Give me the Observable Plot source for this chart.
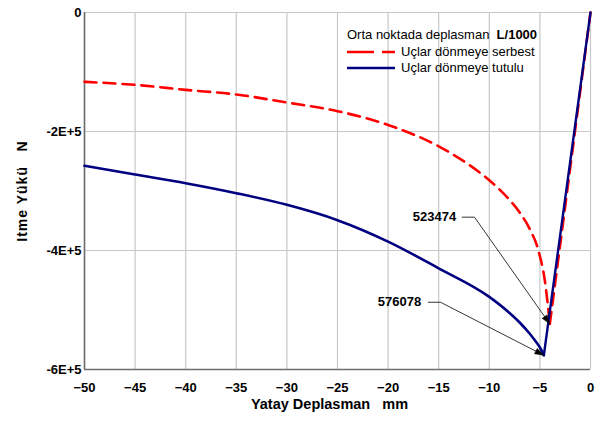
<!DOCTYPE html>
<html>
<head>
<meta charset="utf-8">
<script src="https://cdn.jsdelivr.net/npm/d3@7"></script>
<script src="https://cdn.jsdelivr.net/npm/@observablehq/plot@0.6"></script>
<style>
  html, body { margin: 0; padding: 0; background: #fff; }
  #wrap { position: relative; width: 599px; height: 421px; font-family: "Liberation Sans", Arial, sans-serif; }
  #legend { position: absolute; left: 347px; top: 27px; font-size: 13px; color: #000; line-height: 16.5px; }
  #legend .row { display: flex; align-items: center; height: 16.5px; white-space: pre; }
  #legend svg { margin-right: 6px; }
</style>
</head>
<body>
<div id="wrap"><div id="legend"></div></div>
<script>
// ---- data ----
const xTicks = [-50, -45, -40, -35, -30, -25, -20, -15, -10, -5, 0];
const yTicks = [0, -200000, -400000, -600000];
const yTickLabels = ["0", "-2E+5", "-4E+5", "-6E+5"];

// "Uçlar dönmeye serbest" (red dashed)
const redX = [-50, -45, -40, -35, -30, -25, -20, -15, -12, -10, -8, -7, -6, -5.1, -4.5, -4.02, 0];
const redY = [-116500, -121600, -130000, -137800, -151300, -165800, -189000, -225000, -256000, -282000, -315000, -336000, -364000, -403000, -452000, -523474, 0];

// "Uçlar dönmeye tutulu" (blue solid)
const blueX = [-50, -45, -40, -35, -30, -25, -20, -15, -10, -8, -7, -6, -5.5, -5, -4.61, 0];
const blueY = [-257600, -272300, -286900, -303700, -323200, -349000, -385000, -430000, -478000, -505000, -521000, -540000, -551000, -563000, -576078, 0];

// annotations: label, label end, leader start, bend, tip
const annLabels = ["523474", "576078"];
const annTextX = [-13.27, -16.73];
const annTextY = [-344000, -487000];
const annStartX = [-12.68, -16.04];
const annBendX = [-11.46, -14.82];
const annTipX = [-4.02, -4.61];
const annTipY = [-523474, -576078];

// ---- layout ----
const W = 599, H = 421;
const mL = 84, mR = 9, mT = 12, mB = 52;
const RED = "#ff0000", BLUE = "#000080";

const red = redX.map((x, i) => ({x, y: redY[i]}));
const blue = blueX.map((x, i) => ({x, y: blueY[i]}));

const sx = Plot.scale({x: {domain: [-50, 0], range: [mL, W - mR]}});
const sy = Plot.scale({y: {domain: [-600000, 0], range: [H - mB, mT]}});

const leaders = [];
const heads = [];
annLabels.forEach((lab, i) => {
  leaders.push({id: i, x: annStartX[i], y: annTextY[i]});
  leaders.push({id: i, x: annBendX[i], y: annTextY[i]});
  leaders.push({id: i, x: annTipX[i], y: annTipY[i]});
  const bx = sx.apply(annBendX[i]), by = sy.apply(annTextY[i]);
  const tx = sx.apply(annTipX[i]), ty = sy.apply(annTipY[i]);
  const len = Math.hypot(tx - bx, ty - by);
  const ux = (tx - bx) / len, uy = (ty - by) / len;
  const nx = -uy, ny = ux;
  const L = 9, w = 3;
  const pts = [
    [tx, ty],
    [tx - L * ux + w * nx, ty - L * uy + w * ny],
    [tx - L * ux - w * nx, ty - L * uy - w * ny],
    [tx, ty]
  ];
  pts.forEach(([px, py]) => heads.push({id: i, x: sx.invert(px), y: sy.invert(py)}));
});
const annText = annLabels.map((t, i) => ({t, x: annTextX[i], y: annTextY[i]}));

const chart = Plot.plot({
  width: W, height: H,
  marginLeft: mL, marginRight: mR, marginTop: mT, marginBottom: mB,
  style: {fontFamily: "'Liberation Sans', Arial, sans-serif", background: "#fff", overflow: "visible"},
  x: {domain: [-50, 0]},
  y: {domain: [-600000, 0]},
  marks: [
    Plot.gridX(xTicks, {stroke: "#c8c8c8", strokeOpacity: 1, strokeWidth: 1.2}),
    Plot.gridY(yTicks, {stroke: "#c8c8c8", strokeOpacity: 1, strokeWidth: 1.2}),
    Plot.axisX(xTicks, {tickSize: 0, tickPadding: 13, fontSize: 13, fontWeight: "bold", label: null}),
    Plot.axisY(yTicks, {tickSize: 0, tickPadding: 3, fontSize: 13, fontWeight: "bold", label: null,
      tickFormat: (d) => yTickLabels[yTicks.indexOf(d)]}),
    Plot.ruleX([-50], {stroke: "#6e6e6e", strokeWidth: 1.6}),
    Plot.ruleY([-600000], {stroke: "#6e6e6e", strokeWidth: 1.6}),
    // red dashed curve
    Plot.line(red.slice(0, -1), {x: "x", y: "y", stroke: RED, strokeWidth: 2.6, strokeDasharray: "12 7", curve: "monotone-x"}),
    Plot.line(red.slice(-2), {x: "x", y: "y", stroke: RED, strokeWidth: 2.6, strokeDasharray: "12 7"}),
    // blue solid curve
    Plot.line(blue.slice(0, -1), {x: "x", y: "y", stroke: BLUE, strokeWidth: 2.6, curve: "monotone-x"}),
    Plot.line(blue.slice(-2), {x: "x", y: "y", stroke: BLUE, strokeWidth: 2.4}),
    // annotations
    Plot.line(leaders, {x: "x", y: "y", z: "id", stroke: "#000", strokeWidth: 0.8}),
    Plot.line(heads, {x: "x", y: "y", z: "id", stroke: "#000", fill: "#000", strokeWidth: 0.5}),
    Plot.text(annText, {x: "x", y: "y", text: "t", textAnchor: "end", fontSize: 13, fontWeight: "bold", fill: "#000"}),
    // axis titles
    Plot.text(["Yatay Deplasman   mm"], {frameAnchor: "bottom", dx: -8, dy: 39, fontSize: 14.5, fontWeight: "bold", fill: "#000"}),
    Plot.text(["Itme Yükü   N"], {frameAnchor: "left", textAnchor: "middle", dx: -62, rotate: -90, fontSize: 14, fontWeight: "bold", fill: "#000"})
  ]
});
chart.querySelectorAll("text").forEach(t => {
  t.style.whiteSpace = "pre";
  if (t.textContent === "Itme Yükü   N") t.setAttribute("letter-spacing", "1");
});
document.getElementById("wrap").prepend(chart);

// legend
const legend = document.getElementById("legend");
legend.innerHTML = `
  <div class="row">Orta noktada deplasman  <b>L/1000</b></div>
  <div class="row"><svg width="48" height="6"><line x1="0" y1="3" x2="48" y2="3" stroke="${RED}" stroke-width="2.6" stroke-dasharray="27 8"/></svg>Uçlar dönmeye serbest</div>
  <div class="row"><svg width="48" height="6"><line x1="0" y1="3" x2="48" y2="3" stroke="${BLUE}" stroke-width="2.6"/></svg>Uçlar dönmeye tutulu</div>`;
</script>
</body>
</html>
